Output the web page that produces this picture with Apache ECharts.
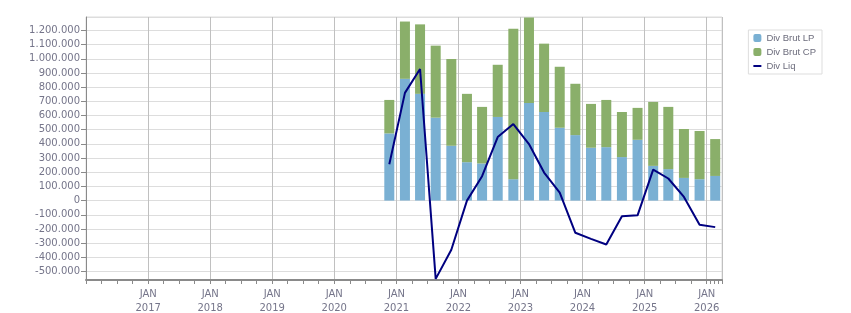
<!DOCTYPE html>
<html>
<head>
<meta charset="utf-8">
<script src="https://cdn.jsdelivr.net/npm/echarts@6/dist/echarts.min.js"></script>
<style>
  html, body { margin: 0; padding: 0; background: #fff; }
  #chart { width: 851px; height: 313px; }
</style>
</head>
<body>
<div id="chart"></div>
<script>
// quarterly dates of the bars / line points
var dates = [
  '2020-11-20', '2021-02-20', '2021-05-20', '2021-08-20',
  '2021-11-20', '2022-02-20', '2022-05-20', '2022-08-20',
  '2022-11-20', '2023-02-20', '2023-05-20', '2023-08-20',
  '2023-11-20', '2024-02-20', '2024-05-20', '2024-08-20',
  '2024-11-20', '2025-02-20', '2025-05-20', '2025-08-20',
  '2025-11-20', '2026-02-20'
]
var divBrutLP = [474000, 859000, 753000, 585000, 387000, 271000, 262000, 590000, 151000, 689000, 625000,
  514000, 462000, 373000, 377000, 307000, 429000, 245000, 222000, 160000, 151000, 174000]
var divBrutCP = [236000, 404000, 490000, 508000, 612000, 482000, 399000, 368000, 1062000, 602000, 482000,
  430000, 362000, 309000, 333000, 318000, 225000, 451000, 439000, 345000, 340000, 260000]
var divLiq = [257000, 760000, 928000, -552000, -347000, 0, 172000, 448000, 540000, 399000, 198000,
  57000, -227000, -270000, -310000, -111000, -104000, 219000, 156000, 26000, -170000, -187000]
var yearLabels = ['2017', '2018', '2019', '2020', '2021', '2022', '2023', '2024', '2025', '2026']

var labelColor = '#75758a'
var font = 'DejaVu Sans'

function pair(vals) {
  return vals.map(function (v, i) { return [dates[i], v] })
}
function fmtThousands(v) {
  var s = Math.abs(Math.round(v)).toString().replace(/\B(?=(\d{3})+(?!\d))/g, '.')
  return (v < 0 ? '-' : '') + s
}

// time axis range; echarts widens a time axis holding bars by half a bar
// on each side, so pull the ends in by that much
var gridLeft = 86, gridRight = 129
var plotWidth = 851 - gridLeft - gridRight
var barW = 10
var xStart = +new Date(2016, 0, 1)
var xEnd = +new Date(2026, 3, 1)
var xPad = (barW / 2) * (xEnd - xStart) / plotWidth

var chart = echarts.init(document.getElementById('chart'))
chart.setOption({
  animation: false,
  textStyle: { fontFamily: font },
  grid: {
    left: gridLeft, right: gridRight, top: 17, bottom: 33,
    outerBoundsMode: 'none',
    containLabel: false,
    show: true, borderColor: '#dddddd', borderWidth: 1
  },
  legend: {
    orient: 'vertical',
    right: 29, top: 30,
    padding: [3, 6, 3, 4],
    itemGap: 4,
    itemWidth: 8, itemHeight: 8,
    borderColor: '#dddddd', borderWidth: 1,
    textStyle: { color: '#6c6c7c', fontSize: 9.5, lineHeight: 9, fontFamily: 'Liberation Sans' },
    data: [
      'Div Brut LP',
      'Div Brut CP',
      // plain line, no dot in the middle
      { name: 'Div Liq', itemStyle: { color: 'rgba(0,0,0,0)', borderColor: 'rgba(0,0,0,0)', borderWidth: 0 } }
    ]
  },
  xAxis: {
    type: 'time',
    min: xStart + xPad,
    max: xEnd - xPad,
    minInterval: 365 * 24 * 3600 * 1000,
    maxInterval: 366 * 24 * 3600 * 1000,
    axisLine: { onZero: false, lineStyle: { color: '#8a8a8a', width: 2 } },
    axisTick: { show: true, length: 4, lineStyle: { color: '#8a8a8a' } },
    minorTick: { show: true, splitNumber: 4, length: 4, lineStyle: { color: '#8a8a8a' } },
    splitLine: { show: true, lineStyle: { color: '#c0c0c0' } },
    axisLabel: {
      showMinLabel: false,
      showMaxLabel: false,
      margin: 7,
      color: labelColor,
      fontSize: 10,
      lineHeight: 14,
      formatter: function (val) {
        var d = new Date(val + 5 * 24 * 3600 * 1000)
        var y = d.getFullYear().toString()
        return (d.getMonth() === 0 && yearLabels.indexOf(y) >= 0) ? 'JAN\n' + y : ''
      }
    }
  },
  yAxis: {
    type: 'value',
    min: -560000,
    max: 1295000,
    splitNumber: 18,
    axisLine: { show: true, lineStyle: { color: '#8a8a8a' } },
    axisTick: { show: true, length: 5, lineStyle: { color: '#8a8a8a' } },
    splitLine: { lineStyle: { color: '#dddddd' } },
    axisLabel: {
      showMinLabel: false,
      showMaxLabel: false,
      margin: 6,
      color: labelColor,
      fontSize: 10,
      formatter: fmtThousands
    }
  },
  series: [
    {
      name: 'Div Brut LP',
      type: 'bar',
      stack: 'div',
      barWidth: barW,
      itemStyle: { color: '#7ab0d3' },
      data: pair(divBrutLP)
    },
    {
      name: 'Div Brut CP',
      type: 'bar',
      stack: 'div',
      barWidth: barW,
      itemStyle: { color: '#8aaf6a' },
      data: pair(divBrutCP)
    },
    {
      name: 'Div Liq',
      type: 'line',
      symbol: 'none',
      lineStyle: { color: '#000080', width: 2 },
      itemStyle: { color: '#000080' },
      data: pair(divLiq)
    }
  ]
})
</script>
</body>
</html>
